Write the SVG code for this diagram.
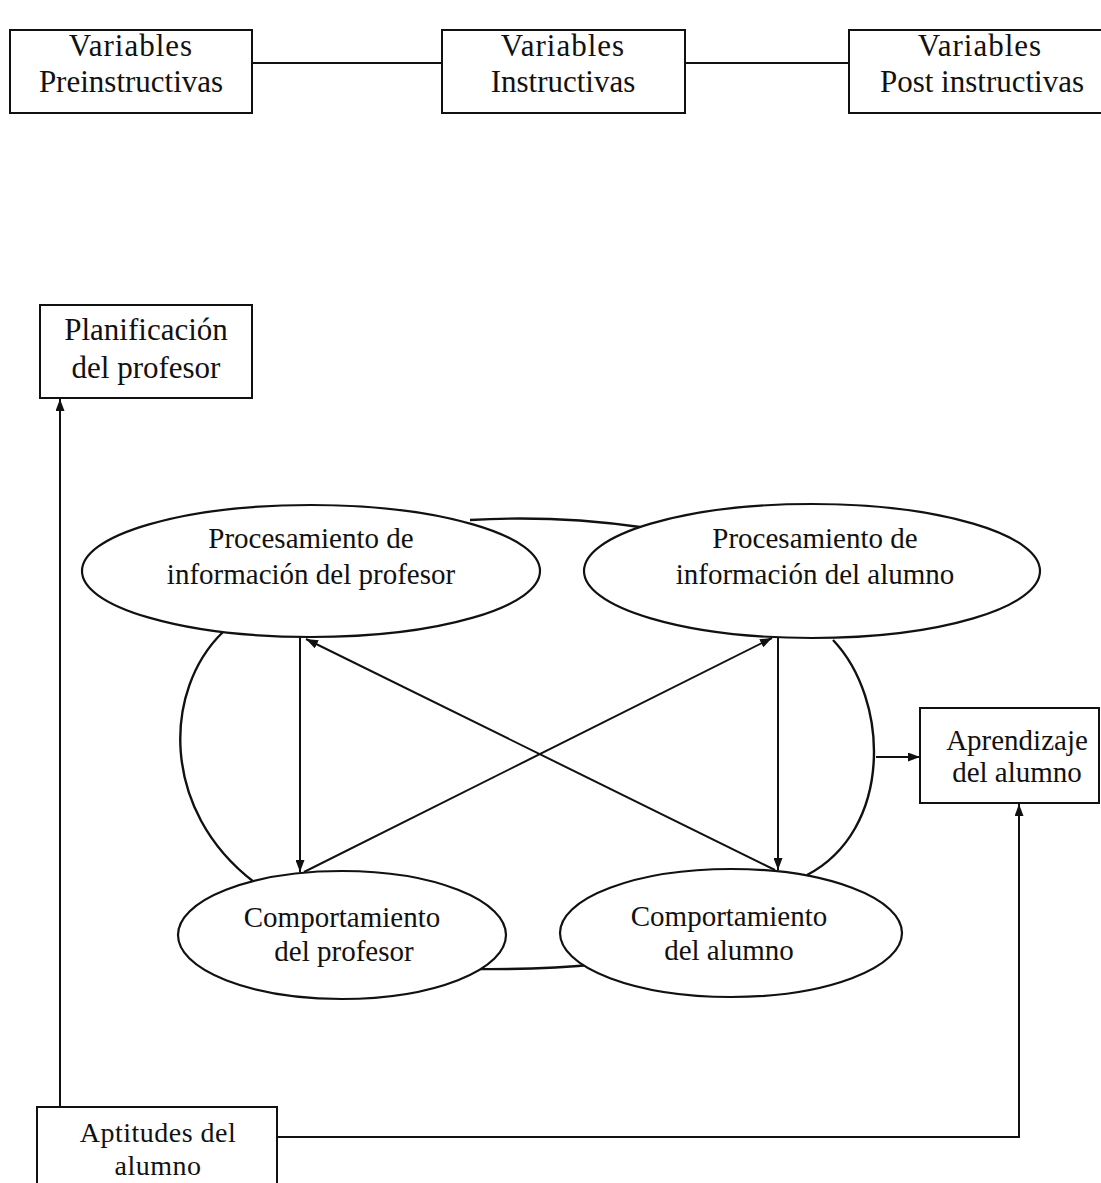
<svg xmlns="http://www.w3.org/2000/svg" width="1101" height="1183" viewBox="0 0 1101 1183">
<style>
.box{fill:#fff;stroke:#111;stroke-width:2}
.ell{fill:#fff;stroke:#111;stroke-width:2.2}
.ln{fill:none;stroke:#111;stroke-width:2}
.arc{fill:none;stroke:#111;stroke-width:2.4}
text{font-family:"Liberation Serif","Times New Roman",serif;fill:#111;text-anchor:middle}
.t31{font-size:31px}
.t29{font-size:29px}
.t28{font-size:28px}
</style>
<defs>
<marker id="ah" viewBox="0 0 12 9" refX="12" refY="4.5" markerWidth="12" markerHeight="9" markerUnits="userSpaceOnUse" orient="auto">
<path d="M0,0 L12,4.5 L0,9 z" fill="#111"/>
</marker>
</defs>
<rect width="1101" height="1183" fill="#fff"/>
<g id="connectors">
<line class="ln" x1="252" y1="63" x2="442" y2="63"/>
<line class="ln" x1="685" y1="63" x2="849" y2="63"/>
<path class="arc" d="M470 520 Q555 515 640 527"/>
<path class="arc" d="M470 969 Q540 970 600 964"/>
<path class="arc" d="M223 632 C163 690,160 810,254 882"/>
<path class="arc" d="M833 640 C890 700,893 830,807 875"/>
<line class="ln" x1="300" y1="637" x2="300" y2="872" marker-end="url(#ah)"/>
<line class="ln" x1="778" y1="638" x2="778" y2="870" marker-end="url(#ah)"/>
<line class="ln" x1="304" y1="872" x2="772" y2="638" marker-end="url(#ah)"/>
<line class="ln" x1="775" y1="870" x2="306" y2="639" marker-end="url(#ah)"/>
<line class="ln" x1="876" y1="757" x2="920" y2="757" marker-end="url(#ah)"/>
<path class="ln" d="M277 1137 H1019 V804" marker-end="url(#ah)"/>
<line class="ln" x1="60" y1="1107" x2="60" y2="399" marker-end="url(#ah)"/>
</g>
<g id="preinstructivas">
<rect class="box" x="10" y="30" width="242" height="83"/>
<text class="t31" x="131" y="56" letter-spacing="1">Variables</text>
<text class="t31" x="131" y="92">Preinstructivas</text>
</g>
<g id="instructivas">
<rect class="box" x="442" y="30" width="243" height="83"/>
<text class="t31" x="563" y="56" letter-spacing="1">Variables</text>
<text class="t31" x="563" y="92">Instructivas</text>
</g>
<g id="postinstructivas">
<rect class="box" x="849" y="30" width="260" height="83"/>
<text class="t31" x="980" y="56" letter-spacing="1">Variables</text>
<text class="t31" x="982" y="92">Post instructivas</text>
</g>
<g id="planificacion">
<rect class="box" x="40" y="305" width="212" height="93"/>
<text class="t31" x="146" y="340">Planificación</text>
<text class="t31" x="146" y="378">del profesor</text>
</g>
<g id="proc-profesor">
<ellipse class="ell" cx="311" cy="571" rx="229" ry="66"/>
<text class="t29" x="311" y="548">Procesamiento de</text>
<text class="t29" x="311" y="584">información del profesor</text>
</g>
<g id="proc-alumno">
<ellipse class="ell" cx="812" cy="571" rx="228" ry="67"/>
<text class="t29" x="815" y="548">Procesamiento de</text>
<text class="t29" x="815" y="584">información del alumno</text>
</g>
<g id="comp-profesor">
<ellipse class="ell" cx="342" cy="935" rx="164" ry="64"/>
<text class="t29" x="342" y="927">Comportamiento</text>
<text class="t29" x="344" y="961">del profesor</text>
</g>
<g id="comp-alumno">
<ellipse class="ell" cx="731" cy="933" rx="171" ry="64"/>
<text class="t29" x="729" y="926">Comportamiento</text>
<text class="t29" x="729" y="960">del alumno</text>
</g>
<g id="aprendizaje">
<rect class="box" x="920" y="708" width="179" height="95"/>
<text class="t29" x="1017" y="750">Aprendizaje</text>
<text class="t29" x="1017" y="782">del alumno</text>
</g>
<g id="aptitudes">
<rect class="box" x="37" y="1107" width="240" height="90"/>
<text class="t28" x="158" y="1142" letter-spacing="0.5">Aptitudes del</text>
<text class="t28" x="158" y="1175" letter-spacing="0.5">alumno</text>
</g>
</svg>
